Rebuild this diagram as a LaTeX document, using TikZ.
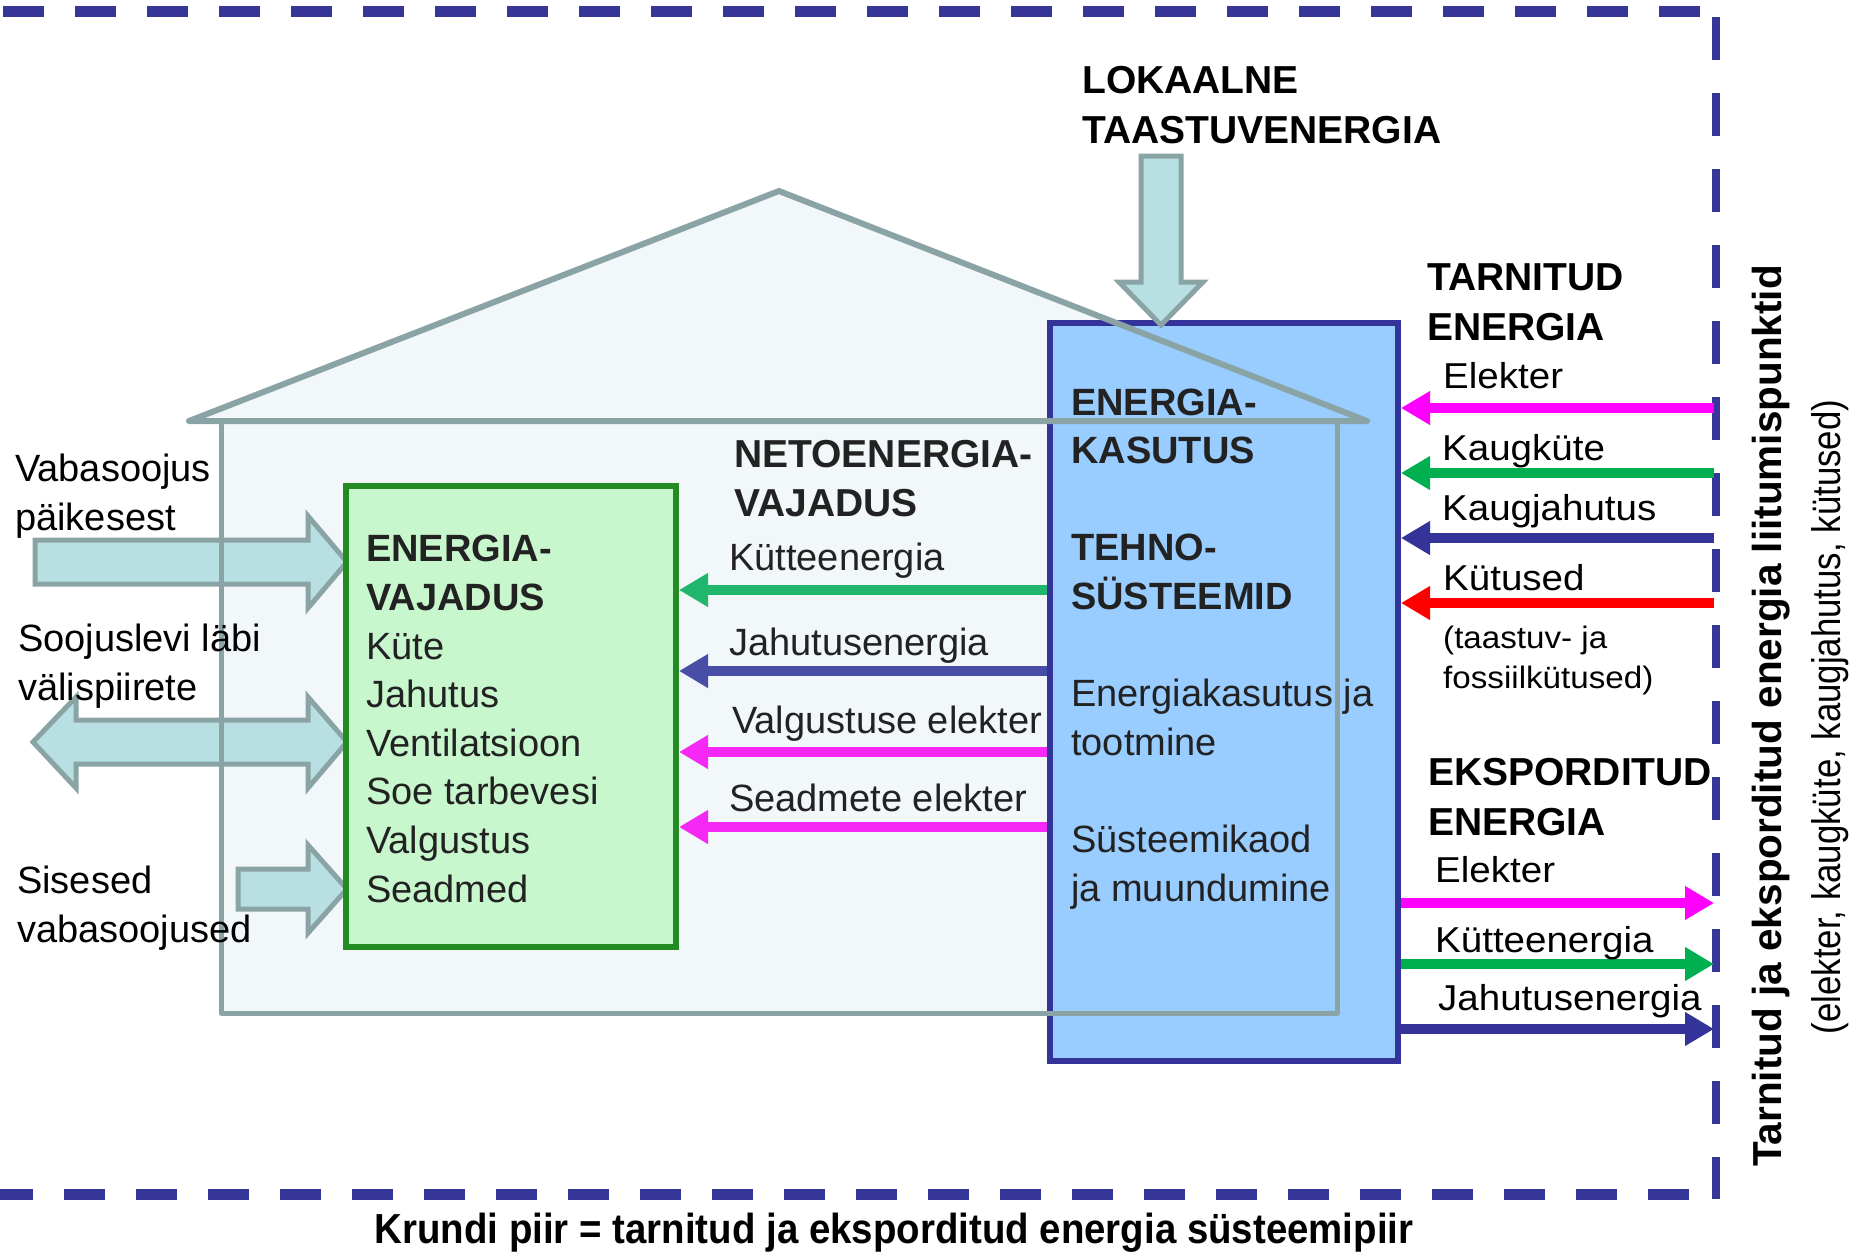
\documentclass[tikz,border=0pt]{standalone}
\usepackage{fontspec}
\setmainfont{Liberation Sans}
\newfontfamily\wideface[FakeStretch=1.07]{Liberation Sans}
\newfontfamily\narrowface[FakeStretch=0.915]{Liberation Sans}
\newfontfamily\thinface[FakeStretch=0.87]{Liberation Sans}
\usetikzlibrary{arrows.meta}

\definecolor{rimblue}{RGB}{54,54,153}
\definecolor{housegray}{RGB}{138,164,166}
\definecolor{houselight}{RGB}{242,247,250}
\definecolor{gainfill}{RGB}{184,223,226}
\definecolor{needfill}{RGB}{200,247,205}
\definecolor{needline}{RGB}{34,139,34}
\definecolor{usefill}{RGB}{153,204,255}
\definecolor{useline}{RGB}{51,51,153}
\definecolor{heatgreen}{RGB}{32,182,108}
\definecolor{coolblue}{RGB}{72,78,165}
\definecolor{lightmag}{RGB}{245,40,245}
\definecolor{supmag}{RGB}{255,0,255}
\definecolor{supgreen}{RGB}{0,176,80}
\definecolor{supblue}{RGB}{51,51,153}
\definecolor{supred}{RGB}{255,0,0}
\definecolor{inktext}{RGB}{34,34,34}

\begin{document}
\begin{tikzpicture}[x=1pt,y=-1pt]
  \tikzset{RimStyle/.style = {
    draw          = rimblue,
    line width    = 11pt,
    dash pattern  = on 41pt off 31pt
    }
  }
  \tikzset{HouseLineStyle/.style = {
    draw          = housegray,
    line join     = round,
    line cap      = round
    }
  }
  \tikzset{BigArrowStyle/.style = {
    fill          = gainfill,
    draw          = housegray,
    line width    = 5pt
    }
  }
  \tikzset{NeedBoxStyle/.style = {
    shape         = rectangle,
    draw          = needline,
    fill          = needfill,
    line width    = 6pt,
    minimum width = 330pt,
    minimum height= 461pt
    }
  }
  \tikzset{UseBoxStyle/.style = {
    shape         = rectangle,
    draw          = useline,
    fill          = usefill,
    line width    = 6pt,
    minimum width = 348pt,
    minimum height= 738pt
    }
  }
  \tikzset{FlowStyle/.style = {
    line width    = 10pt,
    -{Triangle[length=29pt,width=32pt]}
    }
  }
  \tikzset{OutLabelStyle/.style = {
    anchor        = base west,
    inner sep     = 0pt,
    align         = left,
    text          = black,
    font          = \fontsize{38}{48.5}\selectfont
    }
  }
  \tikzset{InLabelStyle/.style = {
    OutLabelStyle,
    text          = inktext,
    font          = \fontsize{38}{48.6}\selectfont
    }
  }
  \tikzset{HeadStyle/.style = {
    OutLabelStyle,
    font          = \bfseries\fontsize{39}{49.5}\selectfont
    }
  }
  \tikzset{SideLabelStyle/.style = {
    OutLabelStyle,
    font          = \wideface\fontsize{36}{40}\selectfont
    }
  }
  \tikzset{SideNoteStyle/.style = {
    OutLabelStyle,
    font          = \wideface\fontsize{31}{40}\selectfont
    }
  }

  \useasboundingbox (0,0) rectangle (1853,1251);

  \fill[houselight] (189,421) -- (779,191) -- (1367,421) -- cycle;
  \fill[houselight] (221,421) rectangle (1337,1013);

  \draw[RimStyle] (3,11) -- (1716,11);
  \draw[RimStyle, line width=8pt, dash pattern=on 43pt off 33pt] (1716,17) -- (1716,1199);
  \draw[RimStyle, dash phase=8pt] (0,1194) -- (1712,1194);

  \draw[BigArrowStyle] (35,540) -- (308,540) -- (308,516) -- (347,562) -- (308,608)
    -- (308,584) -- (35,584) -- cycle;
  \draw[BigArrowStyle] (33,742) -- (76,697) -- (76,720) -- (308,720) -- (308,697)
    -- (347,742) -- (308,788) -- (308,764) -- (76,764) -- (76,788) -- cycle;
  \draw[BigArrowStyle] (238,869) -- (308,869) -- (308,845) -- (347,889) -- (308,933)
    -- (308,909) -- (238,909) -- cycle;

  \node[NeedBoxStyle] (vajadus) at (511,716.5) {};
  \node[UseBoxStyle] (kasutus) at (1224,692) {};

  \draw[BigArrowStyle] (1141,156) -- (1181,156) -- (1181,282) -- (1203,282) -- (1161,325)
    -- (1119,282) -- (1141,282) -- cycle;

  \draw[HouseLineStyle, line width=6pt] (189,421) -- (779,191) -- (1367,421) -- cycle;
  \draw[HouseLineStyle, line width=5pt] (221,421) -- (221,1013) -- (1337,1013) -- (1337,421);

  \coordinate (liit) at (1714,0);

  \draw[FlowStyle, heatgreen] (kasutus.west |- 0,590) -- (vajadus.east |- 0,590);
  \draw[FlowStyle, coolblue] (kasutus.west |- 0,671) -- (vajadus.east |- 0,671);
  \draw[FlowStyle, lightmag] (kasutus.west |- 0,752) -- (vajadus.east |- 0,752);
  \draw[FlowStyle, lightmag] (kasutus.west |- 0,827) -- (vajadus.east |- 0,827);

  \draw[FlowStyle, supmag] (liit |- 0,408) -- (kasutus.east |- 0,408);
  \draw[FlowStyle, supgreen] (liit |- 0,473) -- (kasutus.east |- 0,473);
  \draw[FlowStyle, supblue] (liit |- 0,538) -- (kasutus.east |- 0,538);
  \draw[FlowStyle, supred] (liit |- 0,603) -- (kasutus.east |- 0,603);
  \draw[FlowStyle, supmag] (kasutus.east |- 0,903) -- (liit |- 0,903);
  \draw[FlowStyle, supgreen] (kasutus.east |- 0,964) -- (liit |- 0,964);
  \draw[FlowStyle, supblue] (kasutus.east |- 0,1029) -- (liit |- 0,1029);

  \node[OutLabelStyle] (sun) at (15,530) {Vabasoojus\\päikesest};
  \node[OutLabelStyle] (envelope) at (18,700) {Soojuslevi läbi\\välispiirete};
  \node[OutLabelStyle] (internal) at (17,942) {Sisesed\\vabasoojused};

  \node[InLabelStyle] (needtext) at (366,902) {\textbf{ENERGIA-}\\\textbf{VAJADUS}\\Küte\\Jahutus\\Ventilatsioon\\Soe tarbevesi\\Valgustus\\Seadmed};
  \node[InLabelStyle, font=\bfseries\fontsize{39}{49}\selectfont] (net) at (734,516) {NETOENERGIA-\\VAJADUS};
  \node[InLabelStyle] (heatlbl) at (729,570) {Kütteenergia};
  \node[InLabelStyle] (coollbl) at (729,655) {Jahutusenergia};
  \node[InLabelStyle] (lightlbl) at (732,733) {Valgustuse elekter};
  \node[InLabelStyle] (devlbl) at (729,811) {Seadmete elekter};
  \node[InLabelStyle] (usetext) at (1071,901) {\textbf{ENERGIA-}\\\textbf{KASUTUS}\\[48.6pt]\textbf{TEHNO-}\\\textbf{SÜSTEEMID}\\[48.6pt]Energiakasutus ja\\tootmine\\[48.6pt]Süsteemikaod\\ja muundumine};

  \node[HeadStyle] (local) at (1082,143) {LOKAALNE\\TAASTUVENERGIA};
  \node[HeadStyle] (supplied) at (1427,340) {TARNITUD\\ENERGIA};
  \node[HeadStyle] (exported) at (1428,835) {EKSPORDITUD\\ENERGIA};

  \node[SideLabelStyle] (elin) at (1443,388) {Elekter};
  \node[SideLabelStyle] (dheat) at (1442,460) {Kaugküte};
  \node[SideLabelStyle] (dcool) at (1442,520) {Kaugjahutus};
  \node[SideLabelStyle] (fuel) at (1443,590) {Kütused};
  \node[SideNoteStyle] (fuelnote) at (1443,688) {(taastuv- ja\\fossiilkütused)};
  \node[SideLabelStyle] (elout) at (1435,882) {Elekter};
  \node[SideLabelStyle] (heatout) at (1435,952) {Kütteenergia};
  \node[SideLabelStyle] (coolout) at (1438,1010) {Jahutusenergia};

  \node[rotate=90, anchor=base, inner sep=0pt, font=\bfseries\fontsize{40.5}{47}\selectfont] (liitumine) at (1781,716) {Tarnitud ja eksporditud energia liitumispunktid};
  \node[rotate=90, anchor=base, inner sep=0pt, font=\thinface\fontsize{40}{48}\selectfont] (kandjad) at (1840,717) {(elekter, kaugküte, kaugjahutus, kütused)};

  \node[anchor=base, inner sep=0pt, font=\narrowface\bfseries\fontsize{42}{50}\selectfont] (piir) at (894,1243) {Krundi piir = tarnitud ja eksporditud energia süsteemipiir};

\end{tikzpicture}
\end{document}
